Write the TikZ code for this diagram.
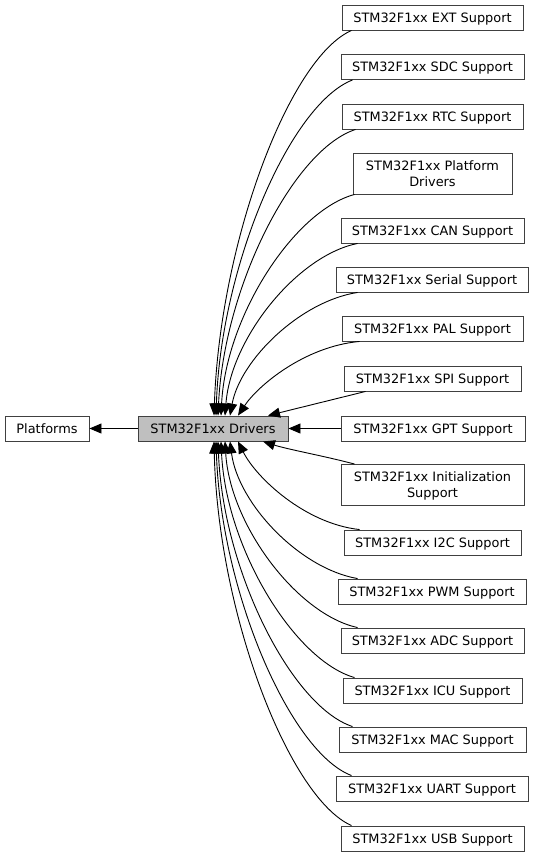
\documentclass[tikz,border=0pt]{standalone}
\usepackage{fontspec}
\setmainfont{DejaVu Sans}
\usetikzlibrary{arrows.meta}
\definecolor{boxborder}{HTML}{404040}
\definecolor{drvfill}{HTML}{BFBFBF}
\begin{document}
\begin{tikzpicture}[x=1pt,y=-1pt,
  box/.style={draw=boxborder, line width=0.9pt, fill=white, minimum height=25pt,
    inner xsep=3pt, inner ysep=2pt, text height=9.4pt, text depth=0pt,
    font=\fontsize{12.9}{16}\selectfont, align=center},
  twoline/.style={minimum height=41pt, text height=25.4pt, text depth=0pt},
  edge/.style={draw=black, line width=0.9pt, -{Triangle[length=12pt,width=10pt]}}]
\useasboundingbox (0,0) rectangle (535,857);

\node[box, fill=drvfill, minimum width=150pt] (drv) at (213,428.5) {STM32F1xx Drivers};
\node[box, minimum width=84pt] (plat) at (47,428.5) {Platforms};

\node[box, minimum width=181pt] (ext) at (432.5,17.5) {STM32F1xx EXT Support};
\node[box, minimum width=183pt] (sdc) at (432.5,67) {STM32F1xx SDC Support};
\node[box, minimum width=181pt] (rtc) at (432.5,116.5) {STM32F1xx RTC Support};
\node[box, twoline, minimum width=159pt] (pfd) at (432.5,173.5) {STM32F1xx Platform\\Drivers};
\node[box, minimum width=183pt] (can) at (432.5,230.5) {STM32F1xx CAN Support};
\node[box, minimum width=192pt] (ser) at (432,279.5) {STM32F1xx Serial Support};
\node[box, minimum width=181pt] (pal) at (432.5,328.5) {STM32F1xx PAL Support};
\node[box, minimum width=177pt] (spi) at (432.5,378.5) {STM32F1xx SPI Support};
\node[box, minimum width=184pt] (gpt) at (433,428.5) {STM32F1xx GPT Support};
\node[box, twoline, minimum width=183pt] (ini) at (432.5,485) {STM32F1xx Initialization\\Support};
\node[box, minimum width=177pt] (i2c) at (432.5,542.5) {STM32F1xx I2C Support};
\node[box, minimum width=188pt] (pwm) at (432,591.5) {STM32F1xx PWM Support};
\node[box, minimum width=183pt] (adc) at (432.5,640.5) {STM32F1xx ADC Support};
\node[box, minimum width=179pt] (icu) at (432.5,690.5) {STM32F1xx ICU Support};
\node[box, minimum width=187pt] (mac) at (432.5,739.5) {STM32F1xx MAC Support};
\node[box, minimum width=192pt] (uart) at (432,788.5) {STM32F1xx UART Support};
\node[box, minimum width=183pt] (usb) at (432.5,838.5) {STM32F1xx USB Support};

\draw[edge] (drv.west) -- (plat.east);

% upper group
\draw[edge] ([xshift=10pt]ext.south west) .. controls +(-62,27) and +(6,-174) .. ([xshift=1pt]drv.north);
\draw[edge] ([xshift=12pt]sdc.south west) .. controls +(-62,24) and +(5,-151) .. ([xshift=3pt]drv.north);
\draw[edge] ([xshift=14pt]rtc.south west) .. controls +(-62,20) and +(6,-129) .. ([xshift=5pt]drv.north);
\draw[edge] ([xshift=2pt]pfd.south west) .. controls +(-60,16) and +(5,-100) .. ([xshift=8pt]drv.north);
\draw[edge] ([xshift=17pt]can.south west) .. controls +(-60,12) and +(6,-78) .. ([xshift=12pt]drv.north);
\draw[edge] ([xshift=22pt]ser.south west) .. controls +(-58,9) and +(10,-55) .. ([xshift=17pt]drv.north);
\draw[edge] ([xshift=18pt]pal.south west) .. controls +(-55,5) and +(20,-30) .. ([xshift=25pt]drv.north);
\draw[edge] ([xshift=22pt]spi.south west) -- ([xshift=55pt]drv.north);
\draw[edge] (gpt.west) -- (drv.east);

% lower group
\draw[edge] ([xshift=14pt]ini.north west) .. controls +(-30,-8) and +(25,8) .. ([xshift=50pt]drv.south);
\draw[edge] ([xshift=16pt]i2c.north west) .. controls +(-55,-6) and +(18,36) .. ([xshift=25pt]drv.south);
\draw[edge] ([xshift=20pt]pwm.north west) .. controls +(-58,-10) and +(8,62) .. ([xshift=17pt]drv.south);
\draw[edge] ([xshift=17pt]adc.north west) .. controls +(-60,-13) and +(5,84) .. ([xshift=12pt]drv.south);
\draw[edge] ([xshift=12pt]icu.north west) .. controls +(-60,-17) and +(5,107) .. ([xshift=8pt]drv.south);
\draw[edge] ([xshift=14pt]mac.north west) .. controls +(-61,-20) and +(5,129) .. ([xshift=5pt]drv.south);
\draw[edge] ([xshift=16pt]uart.north west) .. controls +(-61,-23) and +(5,151) .. ([xshift=3pt]drv.south);
\draw[edge] ([xshift=11pt]usb.north west) .. controls +(-62,-27) and +(4,173) .. ([xshift=1pt]drv.south);
\end{tikzpicture}
\end{document}
